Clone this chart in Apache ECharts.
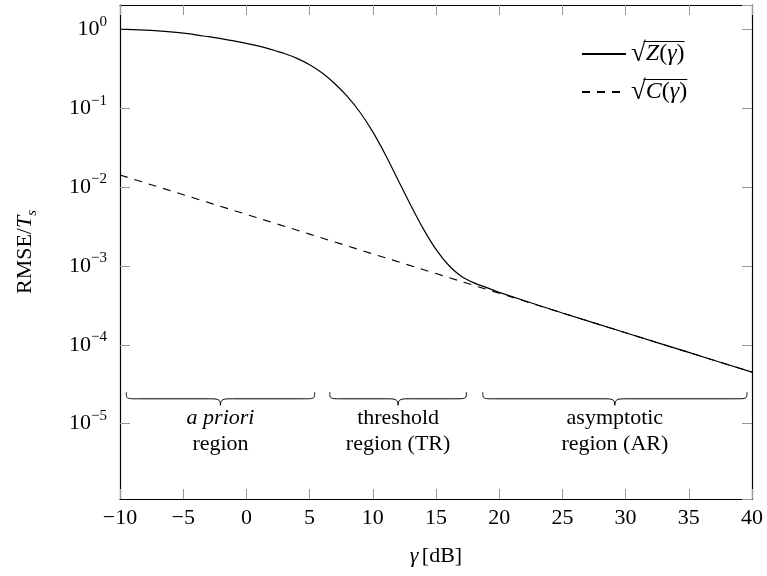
<!DOCTYPE html>
<html>
<head>
<meta charset="utf-8">
<script src="https://cdn.jsdelivr.net/npm/echarts@6/dist/echarts.min.js"></script>
<style>
  html, body { margin: 0; padding: 0; background: #fff; }
  #chart { width: 767px; height: 576px; }
</style>
</head>
<body>
<div id="chart"></div>
<script>
// values (gamma in dB, RMSE/Ts on log scale)
const gammaZ = [-10, -9, -8, -7, -6, -5, -4, -3, -2, -1, 0, 1, 2, 3, 4, 5, 6, 7, 8, 9, 10,
  11, 12, 13, 14, 15, 16, 17, 18, 19, 20, 25, 30, 35, 40];
const rmseZ = [1.0, 0.991, 0.977, 0.955, 0.927, 0.891, 0.851, 0.805, 0.759, 0.711, 0.661,
  0.61, 0.552, 0.492, 0.427, 0.355, 0.279, 0.204, 0.14, 0.0881, 0.0501,
  0.0257, 0.0123, 0.00589, 0.00295, 0.00162, 0.00102, 0.000741, 0.00061, 0.000531, 0.000462,
  0.000253, 0.000142, 0.00008, 0.000045];

const gammaC = [-10, -5, 0, 5, 10, 15, 20, 25, 30, 35, 40];
const rmseC = [0.0142, 0.008, 0.0045, 0.00253, 0.00142, 0.0008, 0.00045, 0.000253, 0.000142, 0.00008, 0.000045];

// annotated regions (x span in dB)
const regionStart = [-9.5, 6.6, 18.7];
const regionEnd = [5.4, 17.4, 39.6];
const regionLine1 = ["a priori", "threshold", "asymptotic"];
const regionLine2 = ["region", "region (TR)", "region (AR)"];

const FONT = "Liberation Serif";
const toPairs = (xs, ys) => xs.map((x, i) => [x, ys[i]]);

const chart = echarts.init(document.getElementById("chart"));

const yFmt = (v) => {
  const l = Math.log10(v);
  const e = Math.round(l);
  if (Math.abs(l - e) > 1e-6) return "";
  return "{b|10}{e|" + (e < 0 ? "\u2212" + -e : e) + "}";
};
const xFmt = (v) => (v < 0 ? "\u2212" + Math.abs(v) : "" + v);

const tickStyle = { show: true, inside: true, length: 10, lineStyle: { color: "#999", width: 1 } };
const lineStyle = { show: true, onZero: false, lineStyle: { color: "#000", width: 1.2 } };

const yRich = {
  b: { fontFamily: FONT, fontSize: 22, color: "#000", lineHeight: 30 },
  e: { fontFamily: FONT, fontSize: 15, color: "#000", verticalAlign: "top", lineHeight: 15 },
};

// legend layout
const LEG_LEFT = 581;
const LEG_TOP = 40;
const LEG_ICON_W = 44;
const LEG_ROW_H = 28;
const LEG_GAP = 10;
const LEG_FS = 24;
const SQRT_SIZE = 27;

chart.setOption({
  animation: false,
  backgroundColor: "#fff",
  grid: { left: 120, right: 15, top: 5, bottom: 77, outerBoundsMode: "none" },
  xAxis: [
    {
      type: "value",
      min: -10,
      max: 40,
      interval: 5,
      name: "{i|γ} {n|[dB]}",
      nameLocation: "middle",
      nameGap: 46,
      nameTextStyle: {
        rich: {
          i: { fontFamily: FONT, fontSize: 22, fontStyle: "italic", color: "#000" },
          n: { fontFamily: FONT, fontSize: 22, color: "#000" },
        },
      },
      axisLine: lineStyle,
      axisTick: tickStyle,
      splitLine: { show: false },
      axisLabel: { formatter: xFmt, margin: 8, fontFamily: FONT, fontSize: 22, color: "#000", showMinLabel: true, showMaxLabel: true },
    },
    {
      type: "value",
      position: "top",
      min: -10,
      max: 40,
      interval: 5,
      axisLine: lineStyle,
      axisTick: tickStyle,
      splitLine: { show: false },
      axisLabel: { show: false },
    },
  ],
  yAxis: [
    {
      type: "log",
      logBase: 10,
      min: 1.11e-6,
      max: 2.03,
      splitNumber: 5,
      name: "{n|RMSE/}{i|T}{s|s}",
      nameLocation: "middle",
      nameGap: 80,
      nameTextStyle: {
        rich: {
          n: { fontFamily: FONT, fontSize: 22, color: "#000", lineHeight: 30 },
          i: { fontFamily: FONT, fontSize: 22, fontStyle: "italic", color: "#000", lineHeight: 30 },
          s: { fontFamily: FONT, fontSize: 15, fontStyle: "italic", color: "#000", verticalAlign: "bottom", lineHeight: 15 },
        },
      },
      axisLine: lineStyle,
      axisTick: tickStyle,
      minorTick: { show: false },
      splitLine: { show: false },
      axisLabel: { formatter: yFmt, margin: 13, rich: yRich, showMinLabel: false, showMaxLabel: false },
    },
    {
      type: "log",
      logBase: 10,
      min: 1.11e-6,
      max: 2.03,
      splitNumber: 5,
      position: "right",
      axisLine: lineStyle,
      axisTick: tickStyle,
      splitLine: { show: false },
      axisLabel: { show: false },
    },
  ],
  legend: {
    orient: "vertical",
    left: LEG_LEFT,
    top: LEG_TOP,
    padding: 0,
    itemWidth: LEG_ICON_W,
    itemHeight: 2,
    itemGap: LEG_GAP,
    itemStyle: { color: "rgba(0,0,0,0)", borderColor: "rgba(0,0,0,0)", borderWidth: 0 },
    data: ["Z", "C"],
    formatter: (name) => "{r|\u221A}{i|" + name + "}{n|(}{i|γ}{n|)}",
    textStyle: {
      lineHeight: LEG_ROW_H,
      rich: {
        r: { fontFamily: FONT, fontSize: SQRT_SIZE, color: "#000", lineHeight: LEG_ROW_H },
        i: { fontFamily: FONT, fontSize: LEG_FS, fontStyle: "italic", color: "#000", lineHeight: LEG_ROW_H },
        n: { fontFamily: FONT, fontSize: LEG_FS, color: "#000", lineHeight: LEG_ROW_H },
      },
    },
  },
  series: [
    {
      name: "Z",
      type: "line",
      data: toPairs(gammaZ, rmseZ),
      symbol: "none",
      smooth: 0.3,
      lineStyle: { color: "#000", width: 1.2 },
      itemStyle: { color: "#000" },
      z: 3,
    },
    {
      name: "C",
      type: "line",
      data: toPairs(gammaC, rmseC),
      symbol: "none",
      lineStyle: { color: "#000", width: 1.1, type: [8, 7] },
      itemStyle: { color: "#000" },
      z: 2,
    },
  ],
});

// measure text pieces for the radical bars in the legend
const ctx = document.createElement("canvas").getContext("2d");
function textW(font, s) {
  ctx.font = font;
  return ctx.measureText(s).width;
}

// braces + region captions, placed through the axes
function drawExtras() {
  const els = [];
  const tipY = chart.convertToPixel({ yAxisIndex: 0 }, 2.5e-5);
  const barY = tipY + 6.5;
  const cuspY = tipY + 13;
  const r = 12;
  const stroke = { fill: null, stroke: "#000", lineWidth: 1 };
  const curve = (ax, ay, c1x, c1y, c2x, c2y, bx, by) => ({
    type: "bezierCurve",
    shape: { x1: ax, y1: ay, cpx1: c1x, cpy1: c1y, cpx2: c2x, cpy2: c2y, x2: bx, y2: by },
    style: stroke,
  });
  const seg = (ax, ay, bx, by, w) => ({
    type: "line",
    shape: { x1: ax, y1: ay, x2: bx, y2: by },
    style: { stroke: "#000", lineWidth: w || 1 },
  });
  regionStart.forEach((s, i) => {
    const x1 = chart.convertToPixel({ xAxisIndex: 0 }, s);
    const x2 = chart.convertToPixel({ xAxisIndex: 0 }, regionEnd[i]);
    const xm = (x1 + x2) / 2;
    els.push(curve(x1, tipY, x1, barY, x1, barY, x1 + r, barY));
    els.push(seg(x1 + r, barY, xm - r, barY));
    els.push(curve(xm - r, barY, xm - 3, barY, xm, barY, xm, cuspY));
    els.push(curve(xm, cuspY, xm, barY, xm + 3, barY, xm + r, barY));
    els.push(seg(xm + r, barY, x2 - r, barY));
    els.push(curve(x2 - r, barY, x2, barY, x2, barY, x2, tipY));
    els.push({
      type: "text",
      x: xm,
      y: tipY + 26,
      style: {
        text: regionLine1[i],
        fontFamily: FONT,
        fontSize: 22,
        fontStyle: i === 0 ? "italic" : "normal",
        fill: "#000",
        align: "center",
        verticalAlign: "middle",
      },
    });
    els.push({
      type: "text",
      x: xm,
      y: tipY + 52,
      style: {
        text: regionLine2[i],
        fontFamily: FONT,
        fontSize: 22,
        fill: "#000",
        align: "center",
        verticalAlign: "middle",
      },
    });
  });

  // overbars of the square roots in the legend
  ["Z", "C"].forEach((name, k) => {
    const rowMid = LEG_TOP + LEG_ROW_H / 2 + k * (LEG_ROW_H + LEG_GAP);
    const x0 = LEG_LEFT + LEG_ICON_W + 5;
    const wr = textW(SQRT_SIZE + "px " + FONT, "\u221A");
    const wi = textW("italic " + LEG_FS + "px " + FONT, name) + textW("italic " + LEG_FS + "px " + FONT, "γ");
    const wn = textW(LEG_FS + "px " + FONT, "()");
    const barTop = rowMid - 12.5;
    els.push(seg(x0 + wr - 1.5, barTop, x0 + wr + wi + wn + 1, barTop, 1));
  });

  chart.setOption({ graphic: { elements: els } });
}
drawExtras();
</script>
</body>
</html>
